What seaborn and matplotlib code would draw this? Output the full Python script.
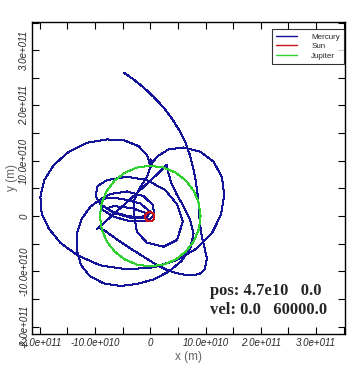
import numpy as np
import pandas as pd
import seaborn as sns
import matplotlib.pyplot as plt

# positions in units of 1e10 m
mercury_x = [-4.70, -3.01, -1.20, 0.60, 2.41, 3.92, 5.30, 6.39, 7.11, 7.71, 8.19, 8.55, 8.80, 8.92, 9.22, 9.76, 10.24, 9.88, 8.92,
             7.23, 5.42, 3.31, 1.20, -1.20, -3.61, -6.02, -8.13, -9.34, -9.70,
             -9.04, -6.63, -3.92, -1.51, 0.90, 3.01,
             3.19, 3.73, 4.70, 5.90, 7.11, 7.83, 7.23, 5.72, 3.31, 0.60, -2.41, -5.42, -8.43, -10.96, -12.53, -13.31, -13.25, -12.35, -10.84, -9.04,
             -7.23, -4.22, -1.20, 0.48, 0.72, -0.60, -3.61, -6.63, -8.73, -9.16, -7.83, -5.12, -1.81, 0.00, -0.72, -3.31, -6.33, -7.83, -6.63, -3.31, -0.60, -1.51, -4.22, -7.23, -9.04, -9.88,
             -9.52, -7.83, -4.22, -0.60, 2.71, 4.82, 5.90, 4.82, 2.41, -0.60, -2.41, -3.01, -2.89, -2.11, -0.60, 0.12,
             -0.24, 0.00, 0.36, 0.12, -0.60, -2.11, -4.82, -7.83, -11.45, -14.76, -17.47, -19.16, -19.88, -19.64, -18.37, -16.27, -13.25, -9.04, -4.22, 0.60, 4.82, 8.43, 11.14, 12.77, 13.37, 12.95, 11.45, 9.04, 6.02, 3.31, 1.33, 0.30]
mercury_y = [25.90, 24.70, 23.25, 21.57, 19.64, 17.65, 15.42, 13.25, 11.20, 8.92, 6.51, 4.10, 1.69, -0.72, -3.13, -5.54, -7.65, -9.64, -10.48,
             -10.72, -10.48, -9.88, -8.86, -7.35, -5.84, -4.22, -2.71, -2.11, -2.41,
             -1.87, 0.36, 2.77, 5.00, 7.23, 9.28,
             8.19, 6.20, 4.10, 1.99, -0.42, -3.13, -5.84, -8.07, -10.06, -11.45, -12.29, -12.65, -12.17, -10.84, -8.86, -6.14, -3.13, -0.42, 1.69, 3.01,
             3.98, 4.46, 3.61, 1.99, 0.18, -0.96, -0.96, -0.12, 1.20, 2.59, 3.37, 3.13, 2.29, 0.78, -0.42, -0.36, 0.48, 1.39, 1.81, 1.45, 0.48, -0.24, 0.00, 0.96, 2.17, 3.61,
             5.42, 6.51, 7.11, 6.51, 4.70, 2.17, -1.02, -4.34, -5.54, -4.82, -2.83, 0.48, 2.89, 4.70, 7.11, 9.04,
             9.82, 10.24, 9.82, 9.04, 11.02, 12.65, 13.73, 13.86, 13.25, 11.63, 9.22, 6.51, 3.49, 0.48, -2.23, -4.82, -7.05, -8.92, -9.64, -9.28, -7.95, -5.84, -3.13, 0.18, 3.80, 7.11, 9.82, 11.63, 12.41, 12.05, 10.84, 9.52]

sun_x = [0.76, 0.65, 0.33, -0.09, -0.51, -0.83, -0.94, -0.83, -0.51, -0.09, 0.33, 0.65, 0.76]
sun_y = [-0.12, 0.31, 0.62, 0.73, 0.62, 0.31, -0.12, -0.55, -0.86, -0.97, -0.86, -0.55, -0.12]

jupiter_x = [9.10, 8.79, 7.88, 6.43, 4.55, 2.36, 0.00, -2.36, -4.55, -6.43, -7.88, -8.79, -9.10,
             -8.79, -7.88, -6.43, -4.55, -2.36, 0.00, 2.36, 4.55, 6.43, 7.88, 8.79, 9.10]
jupiter_y = [0.00, 2.36, 4.55, 6.43, 7.88, 8.79, 9.10, 8.79, 7.88, 6.43, 4.55, 2.36, 0.00,
             -2.36, -4.55, -6.43, -7.88, -8.79, -9.10, -8.79, -7.88, -6.43, -4.55, -2.36, 0.00]

tick_vals = [-2.0e11, -1.0e11, 0, 1.0e11, 2.0e11, 3.0e11]
xtick_labels = ["-2.0e+011", "-10.0e+010", "0", "10.0e+010", "2.0e+011", "3.0e+011"]
ytick_labels = ["-2.0e+011", "-10.0e+010", "0", "10.0e+010", "2.0e+011", "3.0e+011"]

bodies = ["Mercury", "Sun", "Jupiter"]
colors = {"Mercury": "#14149a", "Sun": "#c81414", "Jupiter": "#30d030"}

frames = []
for name, xs, ys in [("Mercury", mercury_x, mercury_y), ("Sun", sun_x, sun_y), ("Jupiter", jupiter_x, jupiter_y)]:
    frames.append(pd.DataFrame({"x": np.array(xs) * 1e10, "y": np.array(ys) * 1e10, "body": name}))
df = pd.concat(frames, ignore_index=True)

sns.set_style("ticks")
plt.rcParams['font.family'] = ['Liberation Sans', 'DejaVu Sans']

fig = plt.figure(figsize=(3.63, 3.73), dpi=100)
ax = fig.add_axes([0.088, 0.105, 0.862, 0.836])

sns.lineplot(data=df, x="x", y="y", hue="body", hue_order=bodies, palette=colors,
             sort=False, estimator=None, lw=0.72, ax=ax, legend=False, antialiased=False)

ax.set_xlim(-2.14e11, 3.52e11)
ax.set_ylim(-2.13e11, 3.51e11)

ax.set_xticks(tick_vals)
ax.set_xticklabels(xtick_labels, fontstyle="italic", fontsize=7)
ax.set_yticks(tick_vals)
ax.set_yticklabels(ytick_labels, fontstyle="italic", fontsize=7, rotation=90, va="center")
ax.set_xticks(np.arange(-1.5e11, 3.6e11, 1.0e11), minor=True)
ax.set_yticks(np.arange(-1.5e11, 3.6e11, 1.0e11), minor=True)
ax.tick_params(which="both", direction="in", length=5, width=0.8, top=True, right=True, color="black")
ax.tick_params(axis="x", pad=3)
ax.tick_params(axis="y", pad=2)
for s in ax.spines.values():
    s.set_linewidth(1.0)
    s.set_color("black")

ax.set_xlabel("x (m)", fontsize=8.5, color="#666666", labelpad=2)
ax.set_ylabel("y (m)", fontsize=8.5, color="#666666", labelpad=1)

handles = [plt.Line2D([], [], color=colors[b], lw=1.0) for b in bodies]
leg = ax.legend(handles, bodies, loc="upper right", bbox_to_anchor=(0.997, 0.978), fontsize=5.8,
                frameon=True, fancybox=False, shadow=False, borderpad=0.5, handlelength=2.6,
                handletextpad=1.7, labelspacing=0.25, borderaxespad=0)
leg.get_frame().set_edgecolor("black")
leg.get_frame().set_linewidth(0.8)

ax.text(0.569, 0.125, "pos: 4.7e10   0.0", transform=ax.transAxes, fontsize=12,
        fontweight="bold", family="Liberation Serif", va="baseline")
ax.text(0.569, 0.064, "vel: 0.0   60000.0", transform=ax.transAxes, fontsize=12,
        fontweight="bold", family="Liberation Serif", va="baseline")

fig.savefig("out.png", dpi=100)
